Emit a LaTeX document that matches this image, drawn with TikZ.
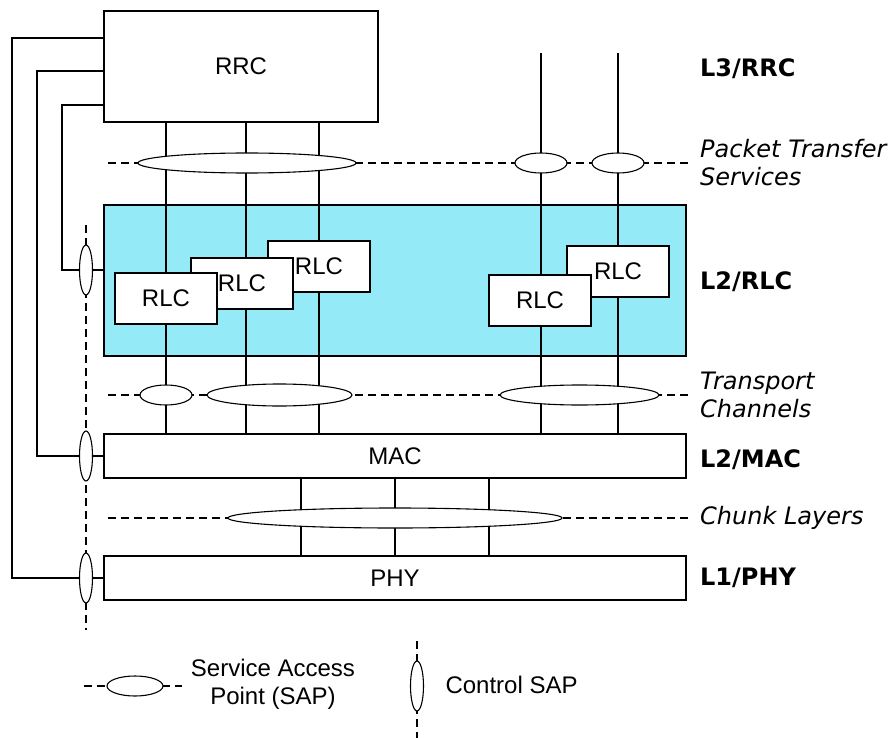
\documentclass[tikz,border=0pt]{standalone}
\usepackage{fontspec}
\setmainfont{Liberation Sans}
\newfontfamily\vfont{DejaVu Sans}
\usetikzlibrary{shapes.geometric}
\definecolor{rlcfill}{RGB}{148,234,246}
\tikzset{
  box/.style={draw, line width=1.5pt, fill=white, inner sep=0pt, font=\fontsize{24}{28}\selectfont},
  rlcbox/.style={box, minimum width=102pt, minimum height=51pt},
  wide/.style={box, minimum width=582pt, minimum height=44pt},
  wire/.style={line width=1.4pt},
  sapline/.style={line width=1.1pt, dash pattern=on 8pt off 5pt},
  sap/.style={ellipse, draw, line width=1.1pt, fill=white, inner sep=0pt, minimum height=20pt},
  csap/.style={ellipse, draw, line width=1.1pt, fill=white, inner sep=0pt, minimum width=13pt, minimum height=50pt},
  layer/.style={anchor=west, inner sep=0pt, font=\vfont\bfseries\fontsize{24}{28}\selectfont},
  service/.style={anchor=west, inner sep=0pt, align=left, font=\vfont\itshape\fontsize{24}{28}\selectfont},
  legend/.style={font=\fontsize{24}{28}\selectfont, align=center}
}
\begin{document}
\begin{tikzpicture}[x=1pt, y=-1pt]
\useasboundingbox (0,0) rectangle (891,738);

% RLC layer background
\node[draw, line width=1.5pt, fill=rlcfill, inner sep=0pt, minimum width=582pt, minimum height=151pt] (rlclayer) at (395,280.5) {};

% protocol boxes
\node[box, minimum width=274pt, minimum height=111pt] (rrc) at (241,66.5) {RRC};
\node[wide] (mac) at (395,456) {MAC};
\node[wide] (phy) at (395,578) {PHY};

% SAP dashed lines
\coordinate (pts-l) at (108,163); \coordinate (pts-r) at (688,163);
\coordinate (tc-l) at (108,395);  \coordinate (tc-r) at (688,395);
\coordinate (cl-l) at (108,518);  \coordinate (cl-r) at (688,518);
\draw[sapline] (pts-l) -- (pts-r);
\draw[sapline] (tc-l) -- (tc-r);
\draw[sapline] (cl-l) -- (cl-r);
\coordinate (cs-t) at (86,225); \coordinate (cs-b) at (86,630);
\draw[sapline] (cs-t) -- (cs-b);

% radio bearers from RRC down to MAC
\foreach \x in {166,246,319}
  \draw[wire] (rrc.south -| \x,0) -- (mac.north -| \x,0);
\coordinate (rb1) at (541,53);
\coordinate (rb2) at (618,53);
\draw[wire] (rb1) -- (mac.north -| rb1);
\draw[wire] (rb2) -- (mac.north -| rb2);

% MAC to PHY
\foreach \x in {301,395,489}
  \draw[wire] (mac.south -| \x,0) -- (phy.north -| \x,0);

% control lines from RRC
\draw[wire] (rrc.west |- 0,38) -| (12,578) -- (phy.west);
\draw[wire] (rrc.west |- 0,71) -| (37,456) -- (mac.west);
\draw[wire] (rrc.west |- 0,105) -| (62,270) -- (rlclayer.west |- 0,270);

% service access points
\node[sap, minimum width=218pt] (p1) at (247,163) {};
\node[sap, minimum width=52pt] (p2) at (541,163) {};
\node[sap, minimum width=52pt] (p3) at (618,163) {};
\node[sap, minimum width=52pt] (t1) at (166,395) {};
\node[sap, minimum width=145pt, minimum height=22pt] (t2) at (279.5,395) {};
\node[sap, minimum width=159pt] (t3) at (579.5,395) {};
\node[sap, minimum width=334pt] (c1) at (395,518) {};

% control SAPs
\node[csap] (k1) at (86,270) {};
\node[csap] (k2) at (86,456) {};
\node[csap] (k3) at (86,578) {};

% RLC entities
\node[rlcbox] (r3) at (319,266.5) {RLC};
\node[rlcbox] (r2) at (242,283.5) {RLC};
\node[rlcbox] (r1) at (166,298.5) {RLC};
\node[rlcbox] (r5) at (618,271.5) {RLC};
\node[rlcbox] (r4) at (540,300.5) {RLC};

% layer names
\node[layer] (l3) at (700,69) {L3/RRC};
\node[service] (pts) at (700,163) {Packet Transfer\\Services};
\node[layer] (l2r) at (700,282) {L2/RLC};
\node[service] (tch) at (700,395) {Transport\\Channels};
\node[layer] (l2m) at (700,460) {L2/MAC};
\node[service] (chl) at (700,518) {Chunk Layers};
\node[layer] (l1) at (700,578) {L1/PHY};

% legend
\coordinate (lg-l) at (84,686); \coordinate (lg-r) at (182,686);
\draw[sapline] (lg-l) -- (lg-r);
\node[sap, minimum width=56pt] (lgsap) at (135,686) {};
\node[legend] (lgsaptext) at (273,684) {Service Access\\Point (SAP)};
\coordinate (lc-t) at (417,641); \coordinate (lc-b) at (417,738);
\draw[sapline] (lc-t) -- (lc-b);
\node[csap] (lgcsap) at (417,686) {};
\node[legend, anchor=west] (lgcsaptext) at (442,685) {Control SAP};
\end{tikzpicture}
\end{document}
